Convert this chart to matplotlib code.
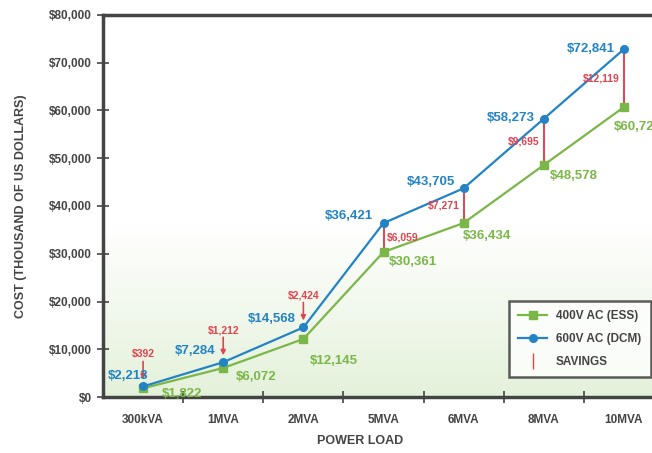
import numpy as np
import matplotlib.pyplot as plt
from matplotlib.lines import Line2D
from matplotlib.colors import LinearSegmentedColormap

plt.rcParams['font.family'] = ['Liberation Sans', 'DejaVu Sans']
plt.rcParams['font.weight'] = 'bold'
plt.rcParams['axes.labelweight'] = 'bold'

# cost data (thousand USD)
loads = ['300kVA', '1MVA', '2MVA', '5MVA', '6MVA', '8MVA', '10MVA']
ess_400v = [1822, 6072, 12145, 30361, 36434, 48578, 60723]
dcm_600v = [2213, 7284, 14568, 36421, 43705, 58273, 72841]
savings = [392, 1212, 2424, 6059, 7271, 9695, 12119]

GREEN = '#7ab648'
BLUE = '#2383c4'
RED = '#e2434f'
DARK = '#444444'

fig = plt.figure(figsize=(6.52, 4.53), dpi=100)
ax = fig.add_axes([103 / 652, 56 / 453, 561 / 652, 382 / 453])

x = np.arange(len(loads))

# soft green fade at the bottom of the plot area
grad = np.linspace(0, 1, 256).reshape(-1, 1)
cmap = LinearSegmentedColormap.from_list('fade', ['#e4f1da', '#ffffff'])
ax.imshow(grad, cmap=cmap, aspect='auto', extent=(-0.5, 6.5, 0, 36000),
          origin='lower', zorder=0)

ax.plot(x, ess_400v, color=GREEN, lw=1.6, marker='s', ms=5.5, zorder=3)
ax.plot(x, dcm_600v, color=BLUE, lw=1.6, marker='o', ms=5.5, zorder=3)

# savings: arrows for the small loads, connecting bars for the rest
for i, s in enumerate(savings):
    if i < 3:
        ax.annotate('', xy=(x[i], dcm_600v[i]), xytext=(0, 25),
                    textcoords='offset pixels',
                    arrowprops=dict(arrowstyle='-|>', color=RED, lw=1.2,
                                    mutation_scale=7, shrinkA=0, shrinkB=5))
        ax.annotate('${:,}'.format(s), xy=(x[i], dcm_600v[i]), xytext=(0, 32),
                    textcoords='offset pixels', ha='center', va='center',
                    color=RED, fontsize=7.5)
    else:
        ax.plot([x[i], x[i]], [ess_400v[i], dcm_600v[i]], color=RED, lw=1.4, zorder=2)
        mid = (ess_400v[i] + dcm_600v[i]) / 2
        if i == 3:
            ax.annotate('${:,}'.format(s), xy=(x[i], mid), xytext=(3, 0),
                        textcoords='offset pixels', ha='left', va='center',
                        color=RED, fontsize=7.5)
        else:
            ax.annotate('${:,}'.format(s), xy=(x[i], mid), xytext=(-4, 0),
                        textcoords='offset pixels', ha='right', va='center',
                        color=RED, fontsize=7.5)

# value labels
blue_off = [(-15, 10), (-28, 11), (-32, 8), (-35, 7), (-33, 6), (-33, 1), (-33, 0)]
green_off = [(39, -6), (33, -9), (30, -22), (29, -10), (23, -13), (30, -11), (14, -20)]
for i in range(len(loads)):
    ax.annotate('${:,}'.format(dcm_600v[i]), xy=(x[i], dcm_600v[i]),
                xytext=blue_off[i], textcoords='offset pixels',
                ha='center', va='center', color=BLUE, fontsize=9.5)
    ax.annotate('${:,}'.format(ess_400v[i]), xy=(x[i], ess_400v[i]),
                xytext=green_off[i], textcoords='offset pixels',
                ha='center', va='center', color=GREEN, fontsize=9.5)

ax.set_xlim(-0.5, 6.5)
ax.set_ylim(0, 80000)
ax.set_xticks(x)
ax.set_xticklabels(loads, fontsize=8.5, color=DARK, fontweight='bold')
ax.set_xticks(np.arange(0.5, 6, 1), minor=True)
ax.tick_params(axis='x', which='major', length=0, pad=12)
ax.tick_params(axis='x', which='minor', direction='inout', length=8, width=1.2, color=DARK)
ax.set_yticks(np.arange(0, 80001, 10000))
ax.set_yticklabels(['${:,}'.format(v) for v in range(0, 80001, 10000)],
                   fontsize=8.5, color=DARK, fontweight='bold')
ax.tick_params(axis='y', direction='inout', length=8, width=1.2, color=DARK, pad=4)

for side in ['left', 'bottom', 'top']:
    ax.spines[side].set_linewidth(2.5)
    ax.spines[side].set_color(DARK)
ax.spines['right'].set_visible(False)

ax.set_xlabel('POWER LOAD', fontsize=9, color=DARK)
ax.xaxis.set_label_coords((360 - 103) / 561, -38 / 382)
ax.set_ylabel('COST (THOUSAND OF US DOLLARS)', fontsize=9, color=DARK)
ax.yaxis.set_label_coords(-76 / 561, 0.5)

handles = [
    Line2D([], [], color=GREEN, lw=1.6, marker='s', ms=5.5),
    Line2D([], [], color=BLUE, lw=1.6, marker='o', ms=5.5),
    Line2D([], [], color=RED, lw=1.4, marker='|', ms=12, linestyle='none'),
]
leg = ax.legend(handles, ['400V AC (ESS)', '600V AC (DCM)', 'SAVINGS'],
                loc='lower left', bbox_to_anchor=((503 - 103) / 561, 14 / 382),
                prop={'size': 8.5, 'weight': 'bold'}, frameon=True, fancybox=False,
                borderpad=0.8, handlelength=2.4, labelspacing=0.9, labelcolor=DARK)
leg.get_frame().set_edgecolor('#333333')
leg.get_frame().set_linewidth(1.8)

fig.savefig('out.png', dpi=100)
